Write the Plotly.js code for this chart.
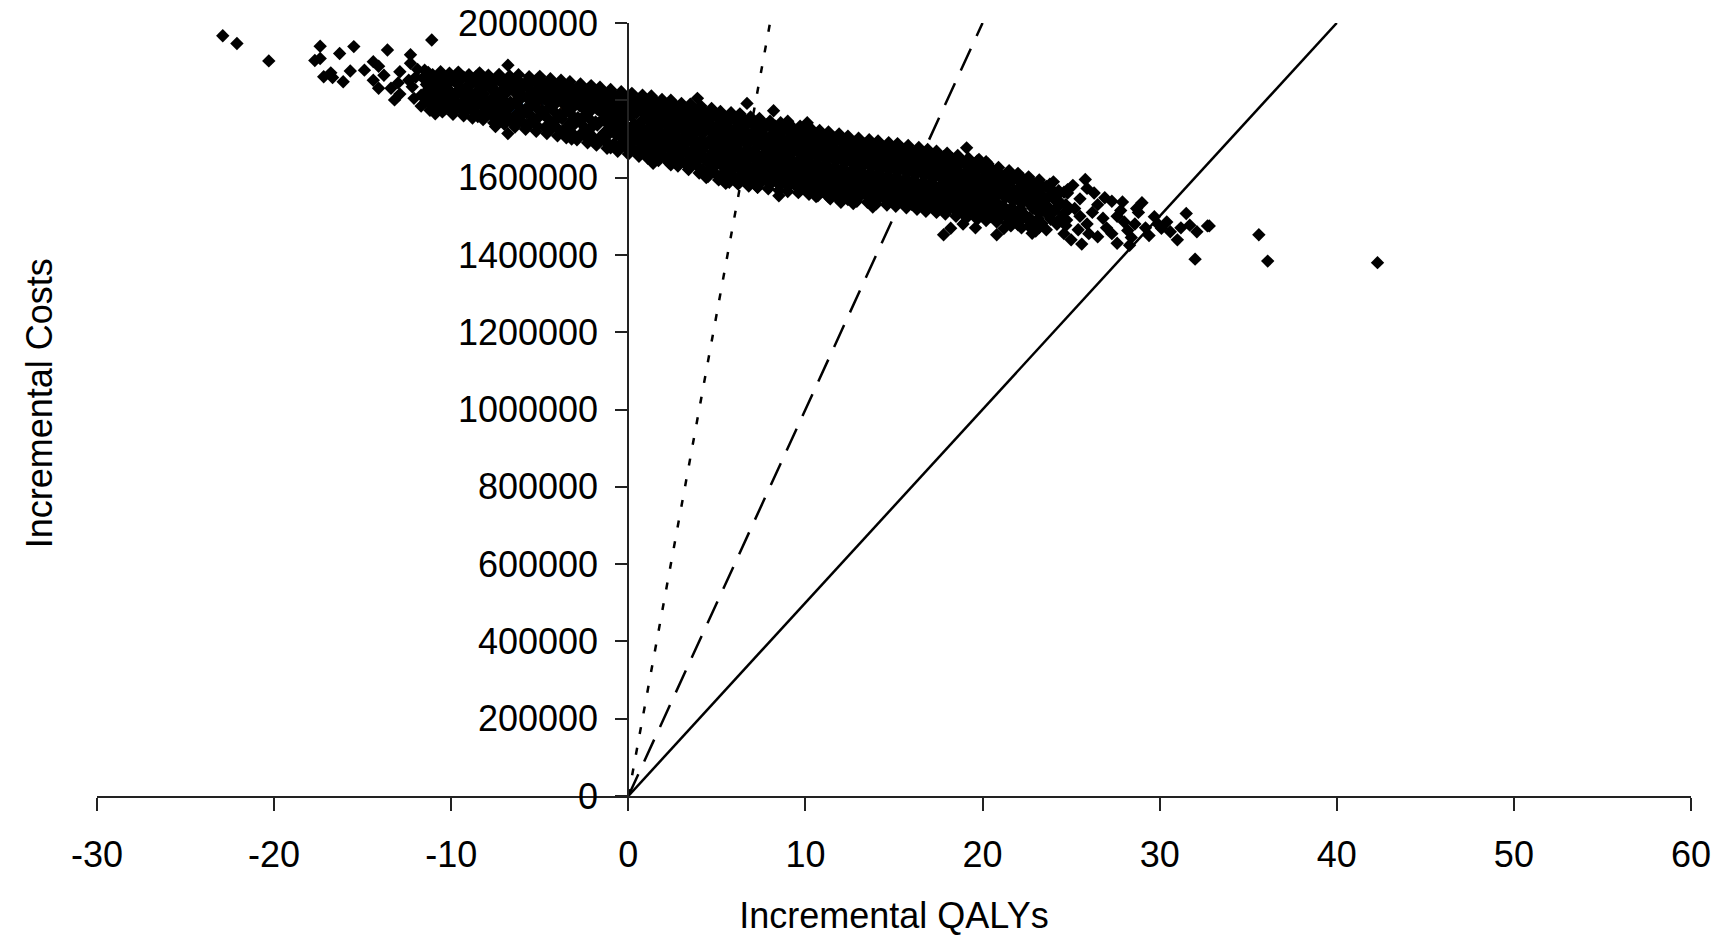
<!DOCTYPE html>
<html>
<head>
<meta charset="utf-8">
<script src="https://cdn.plot.ly/plotly-3.0.1.min.js"></script>
<style>html,body{margin:0;padding:0;background:#fff;}#chart{width:1731px;height:936px;}</style>
</head>
<body>
<div id="chart"></div>
<script>
// ---- Data (incremental QALYs, incremental costs in thousands) ----
const coreQalyA = [
 -11.6,-11.4,-11.7,-11.45,
 -11.05,-10.85,-11.25,-10.9,-11.1,
 -10.4,-10.65,-10.5,-10.3,-10.75,
 -10.1,-9.85,-10.2,-9.95,-9.8,-10.15,
 -9.35,-9.6,-9.55,-9.25,-9.7,-9.4,
 -9.1,-8.85,-9.05,-9.2,-8.9,-9.15,
 -8.6,-8.4,-8.45,-8.7,-8.3,-8.55,
 -8.05,-7.9,-8.15,-8.25,-7.85,-7.95,
 -7.4,-7.65,-7.5,-7.3,-7.55,-7.45,-7.6,
 -7.1,-6.9,-6.95,-7.2,-6.8,-7.05,-7.15
];
const coreCostA = [
 1858,1841,1813,1795,
 1866,1844,1831,1806,1790,
 1855,1843,1818,1803,1781,
 1864,1851,1830,1818,1795,1783,
 1859,1840,1829,1808,1796,1774,
 1857,1843,1820,1807,1786,1771,
 1861,1838,1827,1802,1789,1766,
 1851,1839,1816,1801,1779,1764,
 1856,1843,1824,1812,1791,1778,1757,
 1849,1836,1816,1805,1784,1770,1753
];
const coreQalyB = [
 -6.4,-6.6,-6.45,-6.3,-6.65,-6.35,-6.55,
 -6.1,-5.95,-6.05,-6.2,-5.85,-6.15,-5.9,
 -5.45,-5.6,-5.5,-5.3,-5.65,-5.4,-5.55,
 -5.1,-4.9,-4.95,-5.2,-4.85,-5.05,-5.15,
 -4.4,-4.6,-4.55,-4.3,-4.65,-4.45,-4.5,
 -4.1,-3.9,-4.05,-4.2,-3.85,-4.15,-3.95,
 -3.4,-3.6,-3.45,-3.3,-3.65,-3.35,-3.55,
 -3.1,-2.9,-2.95,-3.2,-2.85,-3.05,-3.15,
 -2.4,-2.6,-2.55,-2.3,-2.65,-2.45,-2.5,
 -2.1,-1.9,-2.05,-2.2,-1.85,-2.15,-1.95
];
const coreCostB = [
 1854,1834,1822,1800,1788,1763,1747,
 1847,1832,1813,1798,1776,1761,1740,
 1852,1831,1818,1797,1783,1756,1738,
 1845,1830,1810,1795,1774,1757,1734,
 1843,1824,1810,1788,1773,1749,1731,
 1838,1823,1801,1787,1764,1747,1725,
 1836,1816,1800,1779,1764,1739,1721,
 1829,1814,1793,1778,1755,1738,1714,
 1827,1807,1792,1770,1753,1729,1711,
 1822,1806,1784,1769,1744,1728,1703
];
const coreQalyC = [
 -1.4,-1.6,-1.45,-1.3,-1.65,-1.35,-1.55,
 -1.1,-0.9,-0.95,-1.2,-0.85,-1.05,-1.15,
 -0.4,-0.6,-0.55,-0.3,-0.65,-0.45,-0.35,-0.5,
 -0.1,0.1,0.05,-0.2,0.15,-0.05,0.2,0.0,
 0.6,0.4,0.45,0.7,0.35,0.55,0.65,0.5,
 0.9,1.1,1.05,1.2,0.85,1.15,0.95,1.0,
 1.6,1.4,1.55,1.7,1.35,1.65,1.45,1.5,
 1.9,2.1,2.05,2.2,1.85,2.15,1.95,2.0,
 2.6,2.4,2.55,2.7,2.35,2.65,2.45,2.5,
 2.9,3.1,3.05,3.2,2.85,3.15,2.95,3.0
];
const coreCostC = [
 1820,1798,1783,1760,1743,1717,1698,
 1813,1797,1774,1758,1733,1715,1689,
 1811,1789,1773,1752,1740,1722,1704,1684,
 1805,1790,1768,1753,1730,1715,1692,1677,
 1803,1782,1767,1744,1729,1705,1690,1668,
 1798,1781,1759,1744,1720,1705,1682,1665,
 1795,1773,1758,1735,1719,1696,1681,1658,
 1789,1772,1750,1734,1711,1695,1672,1655,
 1787,1764,1748,1725,1709,1685,1668,1646,
 1780,1762,1739,1723,1699,1683,1659,1641
];
const coreQalyD = [
 3.6,3.4,3.55,3.7,3.35,3.65,3.45,3.5,
 3.9,4.1,4.05,4.2,3.85,4.15,3.95,4.0,
 4.6,4.4,4.55,4.7,4.35,4.65,4.45,4.5,
 4.9,5.1,5.05,5.2,4.85,5.15,4.95,5.0,
 5.6,5.4,5.55,5.7,5.35,5.65,5.45,5.5,
 5.9,6.1,6.05,6.2,5.85,6.15,5.95,6.0,
 6.6,6.4,6.55,6.7,6.35,6.65,6.45,6.5,
 6.9,7.1,7.05,7.2,6.85,7.15,6.95,7.0,
 7.6,7.4,7.55,7.7,7.35,7.65,7.45,7.5,
 7.9,8.1,8.05,8.2,7.85,8.15,7.95,8.0
];
const coreCostD = [
 1778,1755,1739,1714,1697,1672,1655,1631,
 1773,1755,1730,1713,1687,1670,1645,1626,
 1767,1745,1727,1702,1684,1658,1640,1615,
 1761,1737,1720,1694,1676,1650,1632,1607,
 1756,1736,1711,1693,1667,1649,1623,1604,
 1754,1730,1712,1686,1667,1641,1622,1597,
 1748,1728,1703,1685,1659,1641,1614,1595,
 1745,1720,1702,1676,1658,1632,1613,1589,
 1739,1719,1695,1677,1651,1633,1607,1588,
 1736,1711,1693,1668,1651,1626,1608,1583
];
const coreQalyE = [
 8.6,8.4,8.55,8.7,8.35,8.65,8.45,8.5,
 8.9,9.1,9.05,9.2,8.85,9.15,8.95,9.0,
 9.6,9.4,9.55,9.7,9.35,9.65,9.45,9.5,
 9.9,10.1,10.05,10.2,9.85,10.15,9.95,10.0,
 10.6,10.4,10.55,10.7,10.35,10.65,10.45,10.5,
 10.9,11.1,11.05,11.2,10.85,11.15,10.95,11.0,
 11.6,11.4,11.55,11.7,11.35,11.65,11.45,11.5,
 11.9,12.1,12.05,12.2,11.85,12.15,11.95,12.0,
 12.6,12.4,12.55,12.7,12.35,12.65,12.45,12.5,
 12.9,13.1,13.05,13.2,12.85,13.15,12.95,13.0
];
const coreCostE = [
 1730,1710,1687,1668,1645,1626,1602,1582,
 1727,1704,1686,1661,1643,1619,1600,1577,
 1722,1702,1679,1660,1636,1617,1594,1576,
 1719,1696,1678,1653,1635,1611,1593,1571,
 1712,1693,1670,1651,1628,1609,1586,1569,
 1708,1686,1668,1645,1626,1602,1584,1564,
 1703,1684,1661,1643,1620,1601,1578,1562,
 1701,1678,1659,1637,1618,1595,1577,1557,
 1694,1675,1653,1634,1612,1593,1571,1556,
 1690,1669,1650,1628,1609,1587,1569,1551
];
const coreQalyF = [
 13.6,13.4,13.55,13.7,13.35,13.65,13.45,13.5,
 13.9,14.1,14.05,14.2,13.85,14.15,13.95,14.0,
 14.6,14.4,14.55,14.7,14.35,14.65,14.45,14.5,
 14.9,15.1,15.05,15.2,14.85,15.15,14.95,15.0,
 15.6,15.4,15.55,15.7,15.35,15.65,15.45,15.5,
 15.9,16.1,16.05,16.2,15.85,16.15,15.95,16.0,
 16.6,16.4,16.55,16.7,16.35,16.65,16.45,16.5,
 16.9,17.1,17.05,17.2,16.85,17.15,16.95,17.0,
 17.6,17.4,17.55,17.7,17.35,17.65,17.45,17.5,
 17.9,18.1,18.05,18.2,17.85,18.15,17.95,18.0
];
const coreCostF = [
 1686,1667,1645,1627,1604,1587,1565,1550,
 1684,1662,1644,1621,1603,1580,1563,1545,
 1680,1661,1638,1620,1597,1579,1557,1543,
 1678,1656,1637,1614,1596,1573,1555,1539,
 1673,1654,1631,1613,1590,1572,1549,1537,
 1670,1648,1629,1606,1588,1565,1548,1531,
 1665,1646,1623,1605,1582,1564,1542,1529,
 1662,1640,1621,1598,1580,1557,1540,1524,
 1656,1637,1614,1596,1573,1555,1534,1522,
 1652,1630,1611,1589,1571,1549,1532,1517
];
const coreQalyG = [
 18.6,18.4,18.55,18.7,18.35,18.65,18.45,
 18.9,19.1,19.05,19.2,18.85,19.15,18.95,
 19.6,19.4,19.55,19.7,19.35,19.65,19.45,
 19.9,20.1,20.05,20.2,19.85,20.15,19.95,
 20.6,20.4,20.55,20.7,20.35,20.65,20.45,
 20.9,21.1,21.05,21.2,20.85,21.15,20.95,
 21.6,21.4,21.55,21.7,21.35,21.65,
 21.9,22.1,22.05,22.2,21.85,22.15,
 22.6,22.4,22.55,22.7,22.35,22.65,
 22.9,23.1,23.05,23.2,22.85,
 23.6,23.4,23.55,23.7,23.35,
 23.9,24.1,24.05,24.2,
 24.6,24.4,24.55,24.7
];
const coreCostG = [
 1645,1622,1603,1580,1561,1537,1515,
 1641,1617,1598,1574,1556,1532,1509,
 1633,1613,1590,1571,1548,1529,1507,
 1628,1605,1586,1563,1545,1522,1502,
 1619,1600,1577,1560,1537,1520,1499,
 1613,1591,1574,1551,1533,1512,1495,
 1605,1583,1561,1540,1516,1494,
 1599,1576,1558,1533,1512,1489,
 1591,1571,1549,1529,1506,1488,
 1584,1557,1531,1508,1484,
 1577,1553,1527,1503,1481,
 1569,1541,1512,1479,
 1562,1535,1506,1476
];
// second, interleaved layer of the dense core
const fillQalyA = [
 -11.3,-11.15,-11.35,-11.2,-11.25,
 -10.8,-10.7,-10.85,-10.6,-10.75,
 -10.3,-10.2,-10.35,-10.25,-10.15,-10.3,
 -9.8,-9.7,-9.65,-9.85,-9.75,-9.7,
 -9.3,-9.15,-9.3,-9.2,-9.35,-9.25,
 -8.8,-8.65,-8.75,-8.8,-8.7,-8.65,
 -8.3,-8.2,-8.35,-8.25,-8.15,-8.3,
 -7.8,-7.7,-7.75,-7.65,-7.85,-7.75,-7.7,
 -7.3,-7.2,-7.25,-7.35,-7.15,-7.25,-7.3,
 -6.8,-6.7,-6.75,-6.65,-6.85,-6.75,-6.7
];
const fillCostA = [
 1862,1850,1825,1811,1797,
 1857,1836,1823,1797,1787,
 1860,1840,1824,1806,1789,1779,
 1855,1846,1821,1812,1787,1778,
 1860,1834,1826,1800,1790,1776,
 1852,1848,1814,1812,1779,1770,
 1856,1832,1822,1808,1785,1763,
 1858,1835,1830,1806,1797,1771,1760,
 1853,1847,1820,1817,1787,1784,1755,
 1855,1829,1826,1795,1792,1759,1750
];
const fillQalyB = [
 -6.3,-6.2,-6.25,-6.35,-6.15,-6.25,-6.3,
 -5.8,-5.7,-5.75,-5.65,-5.85,-5.75,-5.7,
 -5.3,-5.2,-5.25,-5.35,-5.15,-5.25,-5.3,
 -4.8,-4.7,-4.75,-4.65,-4.85,-4.75,-4.7,
 -4.3,-4.2,-4.25,-4.35,-4.15,-4.25,-4.3,
 -3.8,-3.7,-3.75,-3.65,-3.85,-3.75,-3.7,
 -3.3,-3.2,-3.25,-3.35,-3.15,-3.25,-3.3,
 -2.8,-2.7,-2.75,-2.65,-2.85,-2.75,-2.7,
 -2.3,-2.2,-2.25,-2.35,-2.15,-2.25,-2.3,
 -1.8,-1.7,-1.75,-1.65,-1.85,-1.75,-1.7
];
const fillCostB = [
 1851,1827,1818,1792,1781,1754,1744,
 1846,1840,1807,1805,1770,1767,1737,
 1849,1823,1814,1790,1779,1749,1740,
 1847,1836,1803,1800,1765,1762,1730,
 1840,1817,1805,1782,1769,1740,1728,
 1839,1829,1794,1792,1757,1753,1722,
 1833,1808,1797,1772,1760,1731,1717,
 1831,1820,1786,1784,1748,1745,1712,
 1824,1800,1789,1763,1750,1721,1706,
 1823,1812,1777,1775,1739,1736,1700
];
const fillQalyC = [
 -1.3,-1.2,-1.25,-1.35,-1.15,-1.25,-1.3,
 -0.8,-0.7,-0.75,-0.65,-0.85,-0.75,-0.7,-0.8,
 -0.3,-0.2,-0.25,-0.35,-0.15,-0.25,-0.3,-0.2,
 0.2,0.3,0.25,0.15,0.35,0.25,0.2,0.3,
 0.8,0.7,0.75,0.85,0.65,0.75,0.8,0.7,
 1.3,1.2,1.25,1.35,1.15,1.25,1.3,1.2,
 1.8,1.7,1.75,1.85,1.65,1.75,1.8,1.7,
 2.3,2.2,2.25,2.35,2.15,2.25,2.3,2.2,
 2.8,2.7,2.75,2.85,2.65,2.75,2.8,2.7,
 3.3,3.2,3.25,3.35,3.15,3.25,3.3,3.2
];
const fillCostC = [
 1816,1791,1779,1752,1738,1708,1694,
 1814,1802,1781,1765,1746,1727,1711,1688,
 1807,1796,1778,1761,1737,1724,1699,1681,
 1804,1797,1776,1760,1739,1721,1701,1673,
 1800,1790,1773,1751,1736,1713,1697,1676,
 1797,1788,1767,1749,1728,1711,1689,1662,
 1792,1781,1765,1742,1726,1704,1688,1664,
 1789,1778,1757,1740,1719,1701,1680,1651,
 1783,1772,1754,1731,1716,1693,1675,1654,
 1779,1770,1747,1729,1707,1690,1667,1637
];
const fillQalyD = [
 3.8,3.7,3.75,3.85,3.65,3.75,3.8,3.7,
 4.3,4.2,4.25,4.35,4.15,4.25,4.3,4.2,
 4.8,4.7,4.75,4.85,4.65,4.75,4.8,4.7,
 5.3,5.2,5.25,5.35,5.15,5.25,5.3,5.2,
 5.8,5.7,5.75,5.85,5.65,5.75,5.8,5.7,
 6.3,6.2,6.25,6.35,6.15,6.25,6.3,6.2,
 6.8,6.7,6.75,6.85,6.65,6.75,6.8,6.7,
 7.3,7.2,7.25,7.35,7.15,7.25,7.3,7.2,
 7.8,7.7,7.75,7.85,7.65,7.75,7.8,7.7,
 8.3,8.2,8.25,8.35,8.15,8.25,8.3,8.2
];
const fillCostD = [
 1776,1765,1746,1725,1705,1683,1663,1640,
 1770,1763,1739,1721,1697,1678,1654,1620,
 1765,1755,1734,1711,1692,1667,1648,1624,
 1758,1748,1728,1703,1685,1660,1641,1605,
 1755,1745,1723,1701,1680,1657,1635,1612,
 1751,1742,1720,1697,1676,1653,1631,1600,
 1746,1737,1714,1694,1670,1648,1625,1604,
 1742,1732,1710,1688,1666,1644,1622,1597,
 1737,1728,1706,1684,1662,1641,1618,1596,
 1733,1723,1701,1680,1659,1637,1616,1592
];
const fillQalyE = [
 8.8,8.7,8.75,8.85,8.65,8.75,8.8,8.7,
 9.3,9.2,9.25,9.35,9.15,9.25,9.3,9.2,
 9.8,9.7,9.75,9.85,9.65,9.75,9.8,9.7,
 10.3,10.2,10.25,10.35,10.15,10.25,10.3,10.2,
 10.8,10.7,10.75,10.85,10.65,10.75,10.8,10.7,
 11.3,11.2,11.25,11.35,11.15,11.25,11.3,11.2,
 11.8,11.7,11.75,11.85,11.65,11.75,11.8,11.7,
 12.3,12.2,12.25,12.35,12.15,12.25,12.3,12.2,
 12.8,12.7,12.75,12.85,12.65,12.75,12.8,12.7,
 13.3,13.2,13.25,13.35,13.15,13.25,13.3,13.2
];
const fillCostE = [
 1729,1719,1698,1677,1656,1635,1613,1590,
 1725,1716,1694,1673,1651,1630,1609,1586,
 1720,1710,1689,1668,1646,1626,1604,1583,
 1715,1706,1684,1664,1642,1621,1600,1578,
 1710,1701,1680,1659,1638,1617,1596,1575,
 1706,1696,1676,1655,1634,1612,1592,1571,
 1702,1692,1671,1651,1629,1609,1588,1568,
 1697,1687,1667,1646,1625,1604,1584,1565,
 1692,1682,1662,1642,1621,1600,1580,1561,
 1688,1677,1658,1637,1617,1596,1576,1558
];
const fillQalyF = [
 13.8,13.7,13.75,13.85,13.65,13.75,13.8,13.7,
 14.3,14.2,14.25,14.35,14.15,14.25,14.3,14.2,
 14.8,14.7,14.75,14.85,14.65,14.75,14.8,14.7,
 15.3,15.2,15.25,15.35,15.15,15.25,15.3,15.2,
 15.8,15.7,15.75,15.85,15.65,15.75,15.8,15.7,
 16.3,16.2,16.25,16.35,16.15,16.25,16.3,16.2,
 16.8,16.7,16.75,16.85,16.65,16.75,16.8,16.7,
 17.3,17.2,17.25,17.35,17.15,17.25,17.3,17.2,
 17.8,17.7,17.75,17.85,17.65,17.75,17.8,17.7,
 18.3,18.2,18.25,18.35,18.15,18.25,18.3,18.2
];
const fillCostF = [
 1685,1675,1654,1634,1613,1592,1572,1555,
 1682,1671,1651,1630,1610,1589,1569,1552,
 1679,1668,1647,1627,1606,1585,1565,1549,
 1676,1664,1644,1623,1602,1581,1561,1546,
 1672,1660,1640,1619,1598,1578,1557,1542,
 1668,1656,1636,1615,1594,1574,1553,1538,
 1664,1652,1632,1611,1590,1569,1549,1534,
 1659,1648,1627,1607,1586,1565,1545,1530,
 1654,1643,1622,1602,1581,1561,1541,1527,
 1649,1638,1618,1597,1577,1556,1537,1524
];
const fillQalyG = [
 18.8,18.7,18.75,18.85,18.65,18.75,18.8,
 19.3,19.2,19.25,19.35,19.15,19.25,19.3,
 19.8,19.7,19.75,19.85,19.65,19.75,19.8,
 20.3,20.2,20.25,20.35,20.15,20.25,20.3,
 20.8,20.7,20.75,20.85,20.65,20.75,20.8,
 21.3,21.2,21.25,21.35,21.15,21.25,
 21.8,21.7,21.75,21.85,21.65,21.75,
 22.3,22.2,22.25,22.35,22.15,22.25,
 22.8,22.7,22.75,22.85,22.65,
 23.3,23.2,23.25,23.35,23.15,
 23.8,23.7,23.75,23.85,
 24.3,24.2,24.25,24.35,
 24.8,24.7,24.75
];
const fillCostG = [
 1643,1633,1612,1591,1570,1548,1526,
 1637,1627,1607,1586,1565,1543,1520,
 1631,1620,1600,1580,1559,1538,1516,
 1624,1613,1594,1573,1553,1532,1511,
 1616,1607,1588,1567,1547,1527,1508,
 1609,1599,1571,1550,1527,1505,
 1603,1592,1567,1546,1523,1501,
 1596,1585,1562,1541,1519,1498,
 1589,1569,1545,1520,1496,
 1582,1567,1541,1518,1494,
 1574,1549,1522,1492,
 1566,1553,1525,1488,
 1560,1530,1490
];
// ragged upper and lower edges of the cloud
const edgeQalyTop = [
 -11.3,-10.6,-10.1,-9.6,-9.0,-8.4,-7.9,-7.3,-6.7,-6.2,-5.6,-5.0,-4.4,-3.8,-3.3,-2.7,
 -2.1,-1.6,-1.0,-0.4,0.2,0.8,1.3,1.9,2.4,3.0,3.5,4.1,4.7,5.2,5.8,6.3,6.9,7.4,8.0,8.6,
 9.1,9.7,10.3,10.8,11.3,11.9,12.4,13.0,13.6,14.1,14.7,15.2,15.8,16.4,16.9,17.4,18.0,
 18.6,19.2,19.7,20.3,20.9,21.5,22.0,22.6,23.2,23.8
];
const edgeCostTop = [
 1872,1874,1870,1873,1866,1871,1865,1867,1863,1866,1861,1862,1856,1852,1848,1842,
 1838,1834,1828,1822,1818,1813,1811,1802,1800,1792,1790,1785,1779,1771,1768,1765,1757,1753,1746,1742,
 1738,1733,1727,1722,1718,1713,1707,1702,1698,1695,1690,1688,1683,1678,1673,1668,1663,
 1657,1650,1643,1636,1626,1618,1611,1602,1594,1583
];
const edgeQalyBottom = [
 -11.2,-10.5,-9.9,-9.3,-8.8,-8.2,-7.6,-7.0,-6.4,-5.8,-5.2,-4.6,-4.0,-3.5,-2.9,-2.3,
 -1.8,-1.2,-0.6,0.0,0.6,1.1,1.7,2.3,2.8,3.4,4.0,4.5,5.1,5.7,6.2,6.8,7.3,7.9,8.5,9.0,
 9.6,10.2,10.7,11.3,11.8,12.4,12.9,13.5,14.0,14.6,15.1,15.7,16.3,16.8,17.4,17.9,18.5,
 19.1,19.7,20.2,20.8,21.4,22.0,22.6,23.2
];
const edgeCostBottom = [
 1774,1770,1764,1760,1754,1750,1742,1738,1731,1725,1720,1714,1708,1703,1698,1690,
 1684,1676,1668,1661,1655,1650,1644,1638,1630,1621,1612,1603,1594,1588,1583,1578,1575,1571,1567,1564,
 1561,1557,1553,1550,1547,1543,1539,1536,1532,1529,1526,1522,1518,1513,1510,1506,1500,
 1496,1492,1489,1485,1482,1478,1475,1471
];
const tailQalyLeft = [
 -22.9,-22.1,-20.3,-17.4,-16.3,-15.5,-13.6,-12.3,-11.1,-17.7,-17.4,-17.2,-16.7,-16.8,
 -16.1,-15.7,-14.9,-14.4,-14.1,-14.4,-14.1,-13.4,-13.2,-12.9,-12.9,-12.3,-12.4,-12.1,
 -11.7,-10.9,-8.5,-7.5,-6.8,-6.8,-12.0,-12.2,-11.9,-13.8,-13.0,-11.5
];
const tailCostLeft = [
 1967,1947,1902,1940,1921,1939,1930,1918,1956,1903,1908,1861,1859,1871,
 1848,1876,1878,1900,1888,1852,1831,1831,1801,1816,1874,1896,1852,1805,
 1785,1765,1758,1732,1714,1891,1860,1835,1880,1865,1845,1878
];
const tailQalyMid = [
 3.9,6.7,8.2,9.0,10.1,1.4,2.4,5.5,8.5,10.6,12.0,12.7,-1.0,-3.2,4.4,7.3,11.4,13.8
];
const tailCostMid = [
 1805,1792,1773,1746,1742,1637,1633,1585,1553,1551,1536,1533,1677,1700,1600,1575,1545,1524
];
const tailQalyRight = [
 17.8,18.2,19.1,19.8,20.2,20.8,24.0,24.8,25.8,25.9,22.8,25.0,25.6,26.5,27.3,27.9,29.0,
 27.6,28.2,28.6,29.7,30.1,30.6,31.0,31.5,31.7,32.1,32.7,32.0,32.8,35.6,36.1,42.3,
 25.2,25.5,25.9,26.2,26.5,26.8,27.0,27.3,27.6,28.0,28.4,28.8,29.2,29.4,28.7,27.8,
 26.0,25.4,24.6,24.3,23.6,23.0,22.2,21.6,26.3,25.5,24.9,28.3,29.9,30.4,31.2,26.9,
 25.1,18.9,19.6,21.2
];
const tailCostRight = [
 1452,1469,1677,1647,1641,1452,1589,1569,1595,1572,1456,1439,1428,1447,1539,1537,1535,
 1430,1463,1480,1499,1469,1460,1439,1507,1477,1460,1475,1389,1475,1452,1384,1380,
 1520,1500,1480,1510,1530,1495,1470,1455,1500,1485,1445,1510,1470,1450,1520,1515,
 1455,1465,1455,1490,1465,1462,1470,1475,1560,1545,1520,1425,1480,1485,1470,1548,
 1580,1480,1470,1468
];
// Willingness-to-pay threshold lines (cost per QALY)
const wtpThresholds = [250000, 100000, 50000];
const wtpDash = ['7px,14px', '24px,14px', 'solid'];
const xTickVals = [-30,-20,-10,0,10,20,30,40,50,60];
const yTickVals = [0,200000,400000,600000,800000,1000000,1200000,1400000,1600000,1800000,2000000];

// ---- Build traces ----
const qalyAll = [].concat(
  coreQalyA, coreQalyB, coreQalyC, coreQalyD, coreQalyE, coreQalyF, coreQalyG,
  fillQalyA, fillQalyB, fillQalyC, fillQalyD, fillQalyE, fillQalyF, fillQalyG,
  edgeQalyTop, edgeQalyBottom, tailQalyLeft, tailQalyMid, tailQalyRight);
const costAllK = [].concat(
  coreCostA, coreCostB, coreCostC, coreCostD, coreCostE, coreCostF, coreCostG,
  fillCostA, fillCostB, fillCostC, fillCostD, fillCostE, fillCostF, fillCostG,
  edgeCostTop, edgeCostBottom, tailCostLeft, tailCostMid, tailCostRight);
const n = Math.min(qalyAll.length, costAllK.length);
const yMax = 2000000;

const traces = [{
  type: 'scatter', mode: 'markers',
  x: qalyAll.slice(0, n), y: costAllK.slice(0, n).map(v => v * 1000),
  marker: {symbol: 'diamond', size: 10.3, color: '#000', line: {width: 0}},
  cliponaxis: false
}];
wtpThresholds.forEach((w, i) => {
  traces.push({
    type: 'scatter', mode: 'lines',
    x: [0, yMax / w], y: [0, yMax],
    line: {color: '#000', width: 2.5, dash: wtpDash[i]}
  });
});

const font = {family: 'Liberation Sans, Arial, sans-serif', size: 36, color: '#000'};
const layout = {
  width: 1731, height: 936,
  margin: {l: 97, r: 40, t: 23, b: 140, pad: 0},
  paper_bgcolor: '#fff', plot_bgcolor: '#fff',
  showlegend: false, hovermode: false,
  font: font,
  xaxis: {
    range: [-30, 60], tickvals: xTickVals, ticktext: xTickVals.map(String),
    ticks: 'outside', ticklen: 13, tickwidth: 2, tickcolor: '#222',
    ticklabelstandoff: 13,
    showline: true, linecolor: '#222', linewidth: 2,
    showgrid: false, zeroline: false, automargin: false,
    tickfont: font,
    title: {text: 'Incremental QALYs', font: font, standoff: 31}
  },
  yaxis: {
    range: [0, yMax], tickvals: yTickVals, ticktext: yTickVals.map(String),
    anchor: 'free', position: 1/3, side: 'left',
    ticks: 'outside', ticklen: 12, tickwidth: 2, tickcolor: '#222',
    ticklabelstandoff: 10,
    showline: true, linecolor: '#222', linewidth: 2,
    showgrid: false, zeroline: false, automargin: false,
    tickfont: font
  },
  annotations: [{
    text: 'Incremental Costs', xref: 'paper', yref: 'paper',
    x: -0.0364, y: 0.508, xanchor: 'center', yanchor: 'middle',
    textangle: -90, showarrow: false, font: font
  }]
};
Plotly.newPlot('chart', traces, layout, {staticPlot: true, displayModeBar: false});
</script>
</body>
</html>
